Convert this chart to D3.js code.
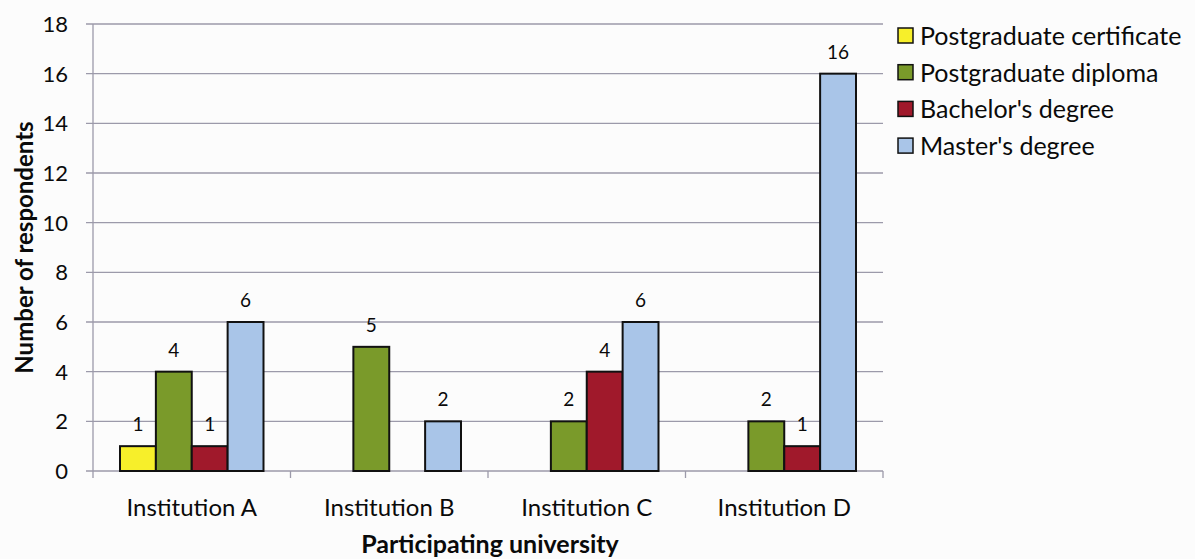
<!DOCTYPE html>
<html>
<head>
<meta charset="utf-8">
<script src="https://cdn.jsdelivr.net/npm/d3@7"></script>
<style>
  body { margin: 0; background: #fcfcfc; }
  text { font-family: Lato, "Open Sans", sans-serif; fill: #0a0a0a; }
</style>
</head>
<body>
<div id="chart"></div>
<script>
// Chart data
var institutions = ["Institution A", "Institution B", "Institution C", "Institution D"];
var seriesNames = ["Postgraduate certificate", "Postgraduate diploma", "Bachelor's degree", "Master's degree"];
var certificate = [1, 0, 0, 0];
var diploma = [4, 5, 2, 2];
var bachelor = [1, 0, 4, 1];
var master = [6, 2, 6, 16];
var yTicks = [0, 2, 4, 6, 8, 10, 12, 14, 16, 18];

var seriesValues = [certificate, diploma, bachelor, master];
var colors = ["#f7ef2a", "#7a9a2a", "#a0192b", "#a9c5e8"];

var svgWidth = 1195;
var svgHeight = 559;
var margin = { top: 24, right: 312, bottom: 88, left: 93 };
var width = svgWidth - margin.left - margin.right;
var height = svgHeight - margin.top - margin.bottom;

var svg = d3.select("#chart")
    .append("svg")
    .attr("width", svgWidth)
    .attr("height", svgHeight);

var chartGroup = svg.append("g")
    .attr("transform", `translate(${margin.left}, ${margin.top})`);

// Scales
var x0 = d3.scaleBand()
    .domain(institutions)
    .range([0, width]);

var groupPad = 27;
var x1 = d3.scaleBand()
    .domain(d3.range(seriesNames.length))
    .range([groupPad, x0.bandwidth() - groupPad]);

var y = d3.scaleLinear()
    .domain([0, 18])
    .range([height, 0]);

// Gridlines
chartGroup.append("g")
    .selectAll("line")
    .data(yTicks)
    .enter()
    .append("line")
    .attr("x1", -7)
    .attr("x2", width)
    .attr("y1", d => y(d))
    .attr("y2", d => y(d))
    .attr("stroke", "#9c9aaa")
    .attr("stroke-width", 1.3);

// Left axis line
chartGroup.append("line")
    .attr("x1", 0).attr("x2", 0)
    .attr("y1", 0).attr("y2", height + 7)
    .attr("stroke", "#9c9aaa")
    .attr("stroke-width", 1.3);

// Y tick labels
chartGroup.append("g")
    .selectAll("text")
    .data(yTicks)
    .enter()
    .append("text")
    .attr("x", -25)
    .attr("y", d => y(d))
    .attr("dy", "0.36em")
    .style("text-anchor", "end")
    .style("font-size", "22px")
    .text(d => d);

// Category tick marks
chartGroup.append("g")
    .selectAll("line")
    .data(institutions)
    .enter()
    .append("line")
    .attr("x1", d => x0(d) + x0.bandwidth())
    .attr("x2", d => x0(d) + x0.bandwidth())
    .attr("y1", height)
    .attr("y2", height + 7)
    .attr("stroke", "#9c9aaa")
    .attr("stroke-width", 1.3);

// Category labels
chartGroup.append("g")
    .selectAll("text")
    .data(institutions)
    .enter()
    .append("text")
    .attr("x", d => x0(d) + x0.bandwidth() / 2)
    .attr("y", height + 45)
    .style("text-anchor", "middle")
    .style("font-size", "24px")
    .text(d => d);

// Bars and value labels
var barData = [];
institutions.forEach(function (inst, i) {
  seriesValues.forEach(function (vals, s) {
    if (vals[i] > 0) barData.push({ inst: inst, s: s, value: vals[i] });
  });
});

chartGroup.selectAll("rect.bar")
    .data(barData)
    .enter()
    .append("rect")
    .attr("class", "bar")
    .attr("x", d => x0(d.inst) + x1(d.s))
    .attr("y", d => y(d.value))
    .attr("width", x1.bandwidth())
    .attr("height", d => height - y(d.value))
    .attr("fill", d => colors[d.s])
    .attr("stroke", "#111")
    .attr("stroke-width", 2);

chartGroup.selectAll("text.val")
    .data(barData)
    .enter()
    .append("text")
    .attr("class", "val")
    .attr("x", d => x0(d.inst) + x1(d.s) + x1.bandwidth() / 2)
    .attr("y", d => y(d.value) - 15)
    .style("text-anchor", "middle")
    .style("font-size", "19px")
    .text(d => d.value);

// Axis titles
svg.append("text")
    .attr("transform", `translate(33, ${margin.top + height / 2}) rotate(-90)`)
    .style("text-anchor", "middle")
    .style("font-size", "24px")
    .style("font-weight", "bold")
    .text("Number of respondents");

svg.append("text")
    .attr("x", 490)
    .attr("y", 553)
    .style("text-anchor", "middle")
    .style("font-size", "25px")
    .style("font-weight", "bold")
    .text("Participating university");

// Legend
var legend = svg.append("g")
    .attr("transform", "translate(898, 28)");

var legendItem = legend.selectAll("g")
    .data(seriesNames)
    .enter()
    .append("g")
    .attr("transform", (d, i) => `translate(0, ${i * 36.7})`);

legendItem.append("rect")
    .attr("x", 0)
    .attr("y", 0)
    .attr("width", 15)
    .attr("height", 15)
    .attr("fill", (d, i) => colors[i])
    .attr("stroke", "#111")
    .attr("stroke-width", 1.5);

legendItem.append("text")
    .attr("x", 22)
    .attr("y", 8)
    .attr("dy", "0.36em")
    .style("font-size", "25px")
    .text(d => d);
</script>
</body>
</html>
